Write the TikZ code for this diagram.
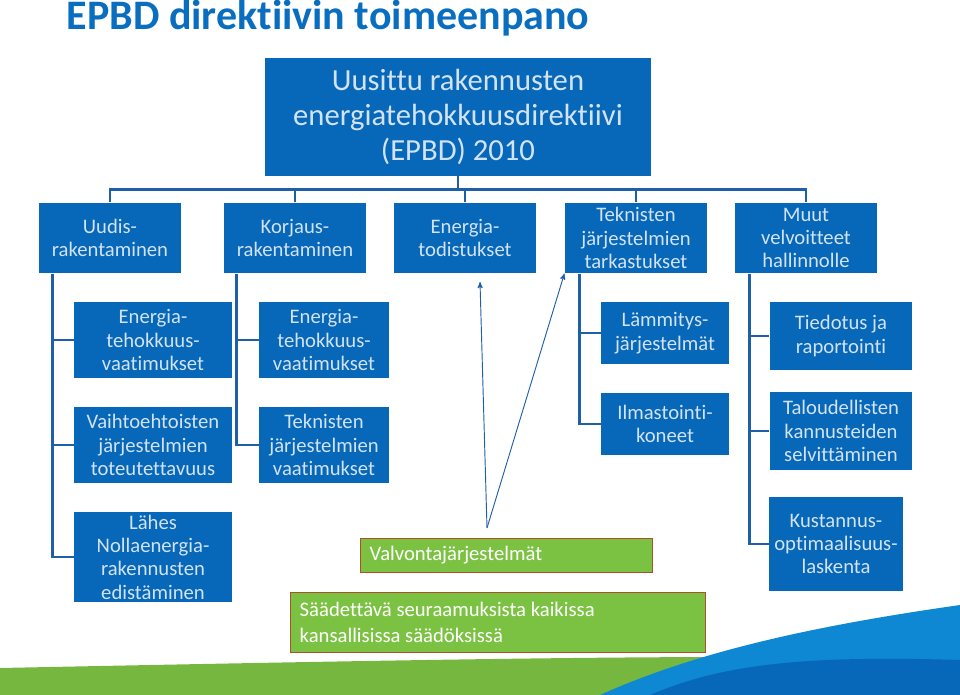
\documentclass[tikz,border=0pt]{standalone}
\usepackage{fontspec}
\setmainfont[RawFeature=-liga]{Carlito}
\usetikzlibrary{arrows,positioning,calc}
\definecolor{boxblue}{HTML}{0767B8}
\definecolor{linkblue}{HTML}{1F5FA8}
\definecolor{txtblue}{HTML}{D2E3F5}
\definecolor{grn}{HTML}{7CC242}
\definecolor{grnedge}{HTML}{B0502A}
\definecolor{titleblue}{HTML}{0A6EC0}
\begin{document}
\begin{tikzpicture}[x=0.75pt,y=-0.75pt,>=stealth']
\tikzset{
box/.style    = {fill=boxblue, text=txtblue, align=center, inner sep=1pt, font=\fontsize{15.5}{17.5}\selectfont},
gbox/.style   = {fill=grn, draw=grnedge, line width=0.6pt, text=white, align=flush left, anchor=north west, inner sep=6pt, font=\fontsize{15.5}{19}\selectfont},
link/.style   = {draw=linkblue, line width=2.2pt},
arr/.style    = {draw=linkblue, line width=0.7pt, ->},
}
\useasboundingbox (0,0) rectangle (960,695);
% bottom swoosh
\fill[grn!95!black] (0,668) .. controls (300,662) and (550,657) .. (735,657) -- (720,695) -- (0,695) -- cycle;
\fill[cyan!70!blue] (600,695) .. controls (700,650) and (820,625) .. (960,605) -- (960,695) -- cycle;
\fill[boxblue] (650,695) .. controls (720,665) and (800,655) .. (960,660) -- (960,695) -- cycle;
% title
\node[anchor=west, text=titleblue, font=\fontsize{31.5}{34}\bfseries\selectfont] (title) at (62,18) {EPBD direktiivin toimeenpano};
% main nodes
\node[box, minimum width=290pt, minimum height=88pt, font=\fontsize{23}{26}\selectfont] (epbd) at (458,117) {Uusittu rakennusten\\energiatehokkuusdirektiivi\\(EPBD) 2010};
\node[box, minimum width=107pt, minimum height=53pt] (uudis)    at (110,238) {Uudis-\\rakentaminen};
\node[box, minimum width=107pt, minimum height=53pt] (korjaus)  at (295,238) {Korjaus-\\rakentaminen};
\node[box, minimum width=107pt, minimum height=53pt] (todistus) at (465,238) {Energia-\\todistukset};
\node[box, minimum width=107pt, minimum height=53pt] (tarkastus) at (636,238) {Teknisten\\järjestelmien\\tarkastukset};
\node[box, minimum width=107pt, minimum height=53pt] (muut)     at (806,238) {Muut\\velvoitteet\\hallinnolle};
% second level
\node[box, minimum width=118pt, minimum height=57pt] (uvaat)   at (153,340) {Energia-\\tehokkuus-\\vaatimukset};
\node[box, minimum width=97pt, minimum height=57pt]  (kvaat)   at (324,340) {Energia-\\tehokkuus-\\vaatimukset};
\node[box, minimum width=96pt, minimum height=46pt]  (lammitys) at (665,333) {Lämmitys-\\järjestelmät};
\node[box, minimum width=107pt, minimum height=51pt] (tiedotus) at (841,336) {Tiedotus ja\\raportointi};
\node[box, minimum width=118pt, minimum height=57pt] (vaihto)  at (153,445) {Vaihtoehtoisten\\järjestelmien\\toteutettavuus};
\node[box, minimum width=97pt, minimum height=57pt]  (tvaat)   at (324,445) {Teknisten\\järjestelmien\\vaatimukset};
\node[box, minimum width=96pt, minimum height=46pt]  (ilma)    at (665,424) {Ilmastointi-\\koneet};
\node[box, minimum width=107pt, minimum height=58pt] (talous)  at (841,431) {Taloudellisten\\kannusteiden\\selvittäminen};
\node[box, minimum width=118pt, minimum height=68pt] (lahes)   at (153,557) {Lähes\\Nollaenergia-\\rakennusten\\edistäminen};
\node[box, minimum width=100pt, minimum height=71pt] (kustannus) at (836,544) {Kustannus-\\optimaalisuus-\\laskenta};
\node[gbox, minimum width=219pt, minimum height=25pt, text width=205pt] (valvonta) at (360,538) {Valvontajärjestelmät};
\node[gbox, minimum width=311pt, minimum height=45pt, text width=297pt] (saad) at (290,592) {Säädettävä seuraamuksista kaikissa\\kansallisissa säädöksissä};
\coordinate (tip) at (487,528);
% tree edges
\draw[link] (epbd.south) -- ++(0,14) coordinate (bus);
\draw[link] (uudis.north) -- (uudis.north |- bus) -- (muut.north |- bus) -- (muut.north);
\foreach \n in {korjaus,todistus,tarkastus} \draw[link] (\n.north) -- (\n.north |- bus);
\draw[link] ($(uudis.south west)+(14,0)$) coordinate (ul) -- (ul |- lahes) -- (lahes.west);
\foreach \n in {uvaat,vaihto} \draw[link] (ul |- \n) -- (\n.west);
\draw[link] ($(korjaus.south west)+(13,0)$) coordinate (kl) -- (kl |- tvaat) -- (tvaat.west);
\draw[link] (kl |- kvaat) -- (kvaat.west);
\draw[link] ($(tarkastus.south west)+(15,0)$) coordinate (tl) -- (tl |- ilma) -- (ilma.west);
\draw[link] (tl |- lammitys) -- (lammitys.west);
\draw[link] ($(muut.south west)+(15,0)$) coordinate (ml) -- (ml |- kustannus) -- (kustannus.west);
\foreach \n in {tiedotus,talous} \draw[link] (ml |- \n) -- (\n.west);
% arrows
\draw[arr] (tip) -- (480,282);
\draw[arr] (tip) -- (tarkastus.south west);
\end{tikzpicture}
\end{document}
